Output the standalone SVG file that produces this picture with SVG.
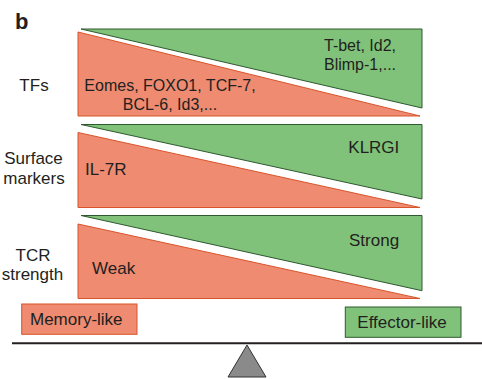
<svg xmlns="http://www.w3.org/2000/svg" width="482" height="379" viewBox="0 0 482 379">
<style>
.g{fill:#80c279;stroke:#2f5a30;stroke-width:1;stroke-linejoin:miter}
.r{fill:#ee8b71;stroke:#d8552b;stroke-width:1;stroke-linejoin:miter}
text{font-family:"Liberation Sans",Arial,sans-serif;fill:#231f20;font-size:17px}
.s16{font-size:16px}
.m{text-anchor:middle}
</style>
<rect width="482" height="379" fill="#fff"/>
<text x="15" y="29" style="font-size:22px;font-weight:bold">b</text>
<g id="row-tfs">
<text class="m" x="34" y="90.7">TFs</text>
<polygon class="g" points="81,29 422,29 422,108"/>
<polygon class="r" points="78,32 420,116 78,116"/>
<text class="s16 m" x="170" y="90.5">Eomes, FOXO1, TCF-7,</text>
<text class="s16 m" x="170" y="110">BCL-6, Id3,...</text>
<text class="s16" x="324" y="50.7">T-bet, Id2,</text>
<text class="s16" x="324" y="70">Blimp-1,...</text>
</g>
<g id="row-surface">
<text class="m" x="33.5" y="164.3">Surface</text>
<text class="m" x="34" y="184">markers</text>
<polygon class="g" points="81,124.5 422,124.5 422,199"/>
<polygon class="r" points="78,132.5 420,207.5 78,207.5"/>
<text x="85" y="174.7">IL-7R</text>
<text x="348.3" y="153.3">KLRGI</text>
</g>
<g id="row-tcr">
<text class="m" x="33" y="260.7">TCR</text>
<text class="m" x="32.5" y="280">strength</text>
<polygon class="g" points="81,215.5 422,215.5 422,290.7"/>
<polygon class="r" points="78,224 420,298.5 78,298.5"/>
<text x="92" y="274.3">Weak</text>
<text x="349" y="245.7">Strong</text>
</g>
<g id="memory-like">
<rect class="r" x="21.7" y="304" width="115.3" height="30.3"/>
<text x="30" y="325">Memory-like</text>
</g>
<g id="effector-like">
<rect class="g" x="345.3" y="307" width="115.7" height="30.3"/>
<text x="357.3" y="327.7">Effector-like</text>
</g>
<g id="connectors">
<line x1="12" y1="343.3" x2="482" y2="343.3" stroke="#231f20" stroke-width="2"/>
<polygon points="247,345 228,377 266,377" fill="#8a8a8a" stroke="#333" stroke-width="1"/>
</g>
</svg>
